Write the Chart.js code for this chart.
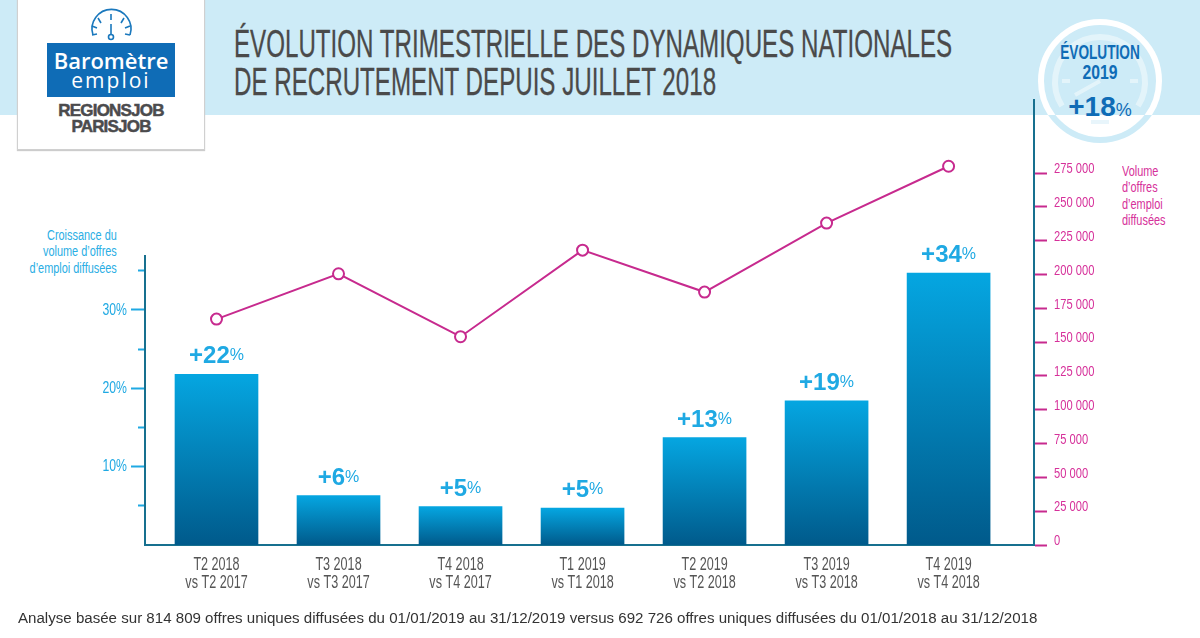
<!DOCTYPE html>
<html lang="fr">
<head>
<meta charset="utf-8">
<title>Baromètre emploi</title>
<script src="https://cdn.jsdelivr.net/npm/chart.js@4/dist/chart.umd.min.js"></script>
<style>
  html, body { margin: 0; padding: 0; background: #fff; }
  #page { position: relative; width: 1200px; height: 638px; overflow: hidden; font-family: "Liberation Sans", sans-serif; }
  #band { position: absolute; left: 0; top: 0; width: 1200px; height: 115px; background: #cdebf7; }
  #logo { position: absolute; left: 17px; top: -2px; width: 186px; height: 150px; background: #fff; border: 1px solid #d0d0d0; box-shadow: 0 1px 1px #ccc; }
  #logoBlue { position: absolute; left: 47px; top: 43px; width: 128px; height: 54px; background: #0f6cb6; color: #fff; text-align: center; font-family: "Open Sans", sans-serif; }
  #logoBlue .a { position: absolute; left: 0; right: 0; top: 4px; font-size: 22px; line-height: 26px; font-weight: 600; }
  #logoBlue .b { position: absolute; left: 0; right: 0; top: 24px; font-size: 21px; line-height: 26px; letter-spacing: 2px; }
  .brand { position: absolute; left: 17px; width: 188px; text-align: center; color: #4b4b4d; font: bold 17px/17px "Liberation Sans", sans-serif; letter-spacing: -0.8px; -webkit-text-stroke: 0.5px #4b4b4d; }
  .title { position: absolute; left: 234px; color: #4a4a4a; font-size: 39px; line-height: 40px; white-space: nowrap; transform: scaleX(0.619); transform-origin: 0 50%; -webkit-text-stroke: 0.3px #4a4a4a; }
  .note { position: absolute; font-size: 14px; line-height: 16.4px; white-space: nowrap; transform: scaleX(0.78); }
  #foot { position: absolute; left: 18px; top: 609px; font: 15.1px/18px "Liberation Sans", sans-serif; color: #333; white-space: nowrap; }
  #chart { position: absolute; left: 0; top: 0; }
  svg { position: absolute; left: 0; top: 0; }
  .badge { position: absolute; left: 1000px; width: 200px; text-align: center; color: #0f6cb6; white-space: nowrap; }
</style>
</head>
<body>
<div id="page">
  <div id="band"></div>
  <div id="logo"></div>
  <svg width="1200" height="160">
    <defs>
      <clipPath id="up"><rect x="1000" y="0" width="200" height="115"/></clipPath>
      <clipPath id="down"><rect x="1000" y="115" width="200" height="60"/></clipPath>
      <g id="dial" fill="none">
        <circle cx="1100" cy="81" r="59" stroke-width="6"/>
        <g opacity="0.45">
          <path d="M1062 106 A45 45 0 1 1 1138 106" stroke-width="6"/>
          <path d="M1062 81 H1070 M1130 81 H1138 M1075 95 L1100 81 M1091 122 H1109" stroke-width="4"/>
        </g>
      </g>
    </defs>
    <use href="#dial" stroke="#ffffff" clip-path="url(#up)"/>
    <use href="#dial" stroke="#cdebf7" clip-path="url(#down)"/>
    <g fill="none" stroke="#1a78bd" stroke-width="1.6">
      <path d="M93 35 A19.5 19.5 0 1 1 130 35"/>
      <path d="M111 14 V20 M98 18 L101 23 M124 18 L121 23 M92 26 L97 28 M130 26 L125 28 M92 35 L97 34 M130 35 L125 34"/>
      <circle cx="111" cy="37" r="2.5"/>
      <path d="M111 24 V34"/>
    </g>
  </svg>
  <div id="logoBlue"><div class="a">Baromètre</div><div class="b">emploi</div></div>
  <div class="brand" style="top:102px">REGIONSJOB</div>
  <div class="brand" style="top:118px">PARISJOB</div>
  <div class="title" style="top:24px">ÉVOLUTION TRIMESTRIELLE DES DYNAMIQUES NATIONALES</div>
  <div class="title" style="top:62px">DE RECRUTEMENT DEPUIS JUILLET 2018</div>
  <div class="badge" style="top:41px;font-size:21px;line-height:22px;font-weight:bold;transform:scaleX(0.65)">ÉVOLUTION</div>
  <div class="badge" style="top:61px;font-size:21px;line-height:22px;font-weight:bold;transform:scaleX(0.75)">2019</div>
  <div class="badge" style="top:91px;font:bold 28px/32px 'Liberation Sans',sans-serif">+18<span style="font-size:18px;font-weight:normal">%</span></div>
  <div class="note" style="right:1083px;top:227px;text-align:right;color:#2aaee4;transform-origin:100% 50%">Croissance du<br>volume d’offres<br>d’emploi diffusées</div>
  <div class="note" style="left:1122px;top:163px;color:#d6309a;transform-origin:0 50%">Volume<br>d’offres<br>d’emploi<br>diffusées</div>
  <canvas id="chart" width="1200" height="638"></canvas>
  <div id="foot">Analyse basée sur 814 809 offres uniques diffusées du 01/01/2019 au 31/12/2019 versus 692 726 offres uniques diffusées du 01/01/2018 au 31/12/2018</div>
</div>
<script>
var quarters = [
  ["T2 2018", "vs T2 2017"],
  ["T3 2018", "vs T3 2017"],
  ["T4 2018", "vs T4 2017"],
  ["T1 2019", "vs T1 2018"],
  ["T2 2019", "vs T2 2018"],
  ["T3 2019", "vs T3 2018"],
  ["T4 2019", "vs T4 2018"]
];
var growth = [21.8, 6.3, 4.9, 4.7, 13.7, 18.4, 34.7];
var growthLabels = ["+22", "+6", "+5", "+5", "+13", "+19", "+34"];
var volume = [167000, 200500, 154000, 218000, 187000, 238000, 280000];
var growthTicks = [5, 10, 15, 20, 25, 30, 35];
var volumeTicks = [0, 25000, 50000, 75000, 100000, 125000, 150000, 175000, 200000, 225000, 250000, 275000];

var SPINE = "#17708f";
var PINK = "#c72a8e";
var PINK_TEXT = "#d6309a";
var CYAN = "#1fa9e3";
var AXIS_FONT = "Liberation Sans";
var SQUEEZE = 0.72;

function toPoints(values) {
  return values.map(function(v, i) { return { x: i, y: v }; });
}

// each bar gets its own gradient, bright at the top, dark at the base
function barGradient(context) {
  var chart = context.chart;
  if (!chart.chartArea || context.raw === undefined) return "#04a5e0";
  var yScale = chart.scales.yGrowth;
  var g = chart.ctx.createLinearGradient(0, yScale.getPixelForValue(context.raw.y), 0, yScale.getPixelForValue(0));
  g.addColorStop(0, "#05a6e1");
  g.addColorStop(1, "#005a8b");
  return g;
}

// no condensed font installed, so the axis labels are squeezed when drawn
var condensedTicks = {
  id: "condensedTicks",
  beforeDraw: function(chart) {
    var ctx = chart.ctx;
    if (ctx.plainFillText) return;
    ctx.plainFillText = ctx.fillText;
    ctx.fillText = function(text, x, y) {
      ctx.save();
      ctx.translate(x, y);
      ctx.scale(SQUEEZE, 1);
      ctx.plainFillText(text, 0, 0);
      ctx.restore();
    };
  }
};

// big "+22" with a small "%" above each bar, plus the short left spine
var extras = {
  id: "extras",
  afterDatasetsDraw: function(chart) {
    var ctx = chart.ctx;
    var yScale = chart.scales.yGrowth;
    ctx.save();
    ctx.strokeStyle = SPINE;
    ctx.lineWidth = 2;
    ctx.beginPath();
    ctx.moveTo(chart.chartArea.left, yScale.getPixelForValue(0));
    ctx.lineTo(chart.chartArea.left, yScale.getPixelForValue(37));
    ctx.stroke();

    ctx.fillStyle = CYAN;
    ctx.textBaseline = "alphabetic";
    ctx.textAlign = "left";
    chart.getDatasetMeta(0).data.forEach(function(bar, i) {
      var big = "bold 24px 'Liberation Sans'";
      var small = "16px 'Liberation Sans'";
      ctx.font = big;
      var w1 = ctx.measureText(growthLabels[i]).width;
      ctx.font = small;
      var w2 = ctx.measureText("%").width;
      var x = bar.x - (w1 + w2) / 2;
      ctx.font = big;
      ctx.plainFillText(growthLabels[i], x, bar.y - 11);
      ctx.font = small;
      ctx.plainFillText("%", x + w1, bar.y - 14);
    });
    ctx.restore();
  }
};

new Chart(document.getElementById("chart").getContext("2d"), {
  data: {
    datasets: [
      {
        type: "bar",
        data: toPoints(growth),
        yAxisID: "yGrowth",
        barThickness: 83,
        backgroundColor: barGradient,
        order: 2
      },
      {
        type: "line",
        data: toPoints(volume),
        yAxisID: "yVolume",
        borderColor: PINK,
        borderWidth: 2,
        pointRadius: 5.5,
        pointBorderWidth: 2,
        pointBorderColor: PINK,
        pointBackgroundColor: "#fff",
        tension: 0,
        order: 1
      }
    ]
  },
  options: {
    responsive: false,
    animation: false,
    layout: { padding: { top: 100, left: 0, right: 0, bottom: 0 } },
    plugins: { legend: { display: false }, tooltip: { enabled: false } },
    scales: {
      x: {
        type: "linear",
        offset: false,
        min: -0.586,
        max: 6.7,
        afterBuildTicks: function(scale) {
          scale.ticks = quarters.map(function(q, i) { return { value: i }; });
        },
        afterFit: function(scale) { scale.height = 93; },
        grid: { display: false, drawTicks: false },
        border: { color: SPINE, width: 2 },
        ticks: {
          autoSkip: false,
          maxRotation: 0,
          padding: 11,
          color: "#555",
          font: { family: AXIS_FONT, size: 17.5, lineHeight: "18px" },
          callback: function(value) { return quarters[value]; }
        }
      },
      yGrowth: {
        position: "left",
        min: 0,
        max: 56.8,
        afterBuildTicks: function(scale) {
          scale.ticks = growthTicks.map(function(v) { return { value: v }; });
        },
        afterFit: function(scale) { scale.width = 145; },
        border: { display: false },
        grid: {
          drawOnChartArea: false,
          tickLength: 14,
          tickColor: CYAN,
          tickWidth: 2,
          // tick length is not scriptable, the dash hides the outer half of the unlabelled ones
          tickBorderDash: function(c) { return c.tick && c.tick.value % 10 === 0 ? [] : [0, 7, 7, 100]; }
        },
        ticks: {
          padding: 4,
          color: CYAN,
          font: { family: AXIS_FONT, size: 17 },
          callback: function(value) { return value % 10 === 0 ? value + "%" : ""; }
        }
      },
      yVolume: {
        position: "right",
        min: 0,
        max: 329000,
        afterBuildTicks: function(scale) {
          scale.ticks = volumeTicks.map(function(v) { return { value: v }; });
        },
        afterFit: function(scale) { scale.width = 166; },
        border: { color: SPINE, width: 2 },
        grid: { drawOnChartArea: false, tickLength: 13, tickColor: PINK, tickWidth: 2 },
        ticks: {
          padding: 7,
          color: PINK_TEXT,
          font: { family: AXIS_FONT, size: 15.5, lineHeight: "8px" },
          // empty second line lifts the label a little above its tick
          callback: function(value) {
            return [String(value).replace(/\B(?=(\d{3})+$)/g, " "), ""];
          }
        }
      }
    }
  },
  plugins: [condensedTicks, extras]
});
</script>
</body>
</html>
